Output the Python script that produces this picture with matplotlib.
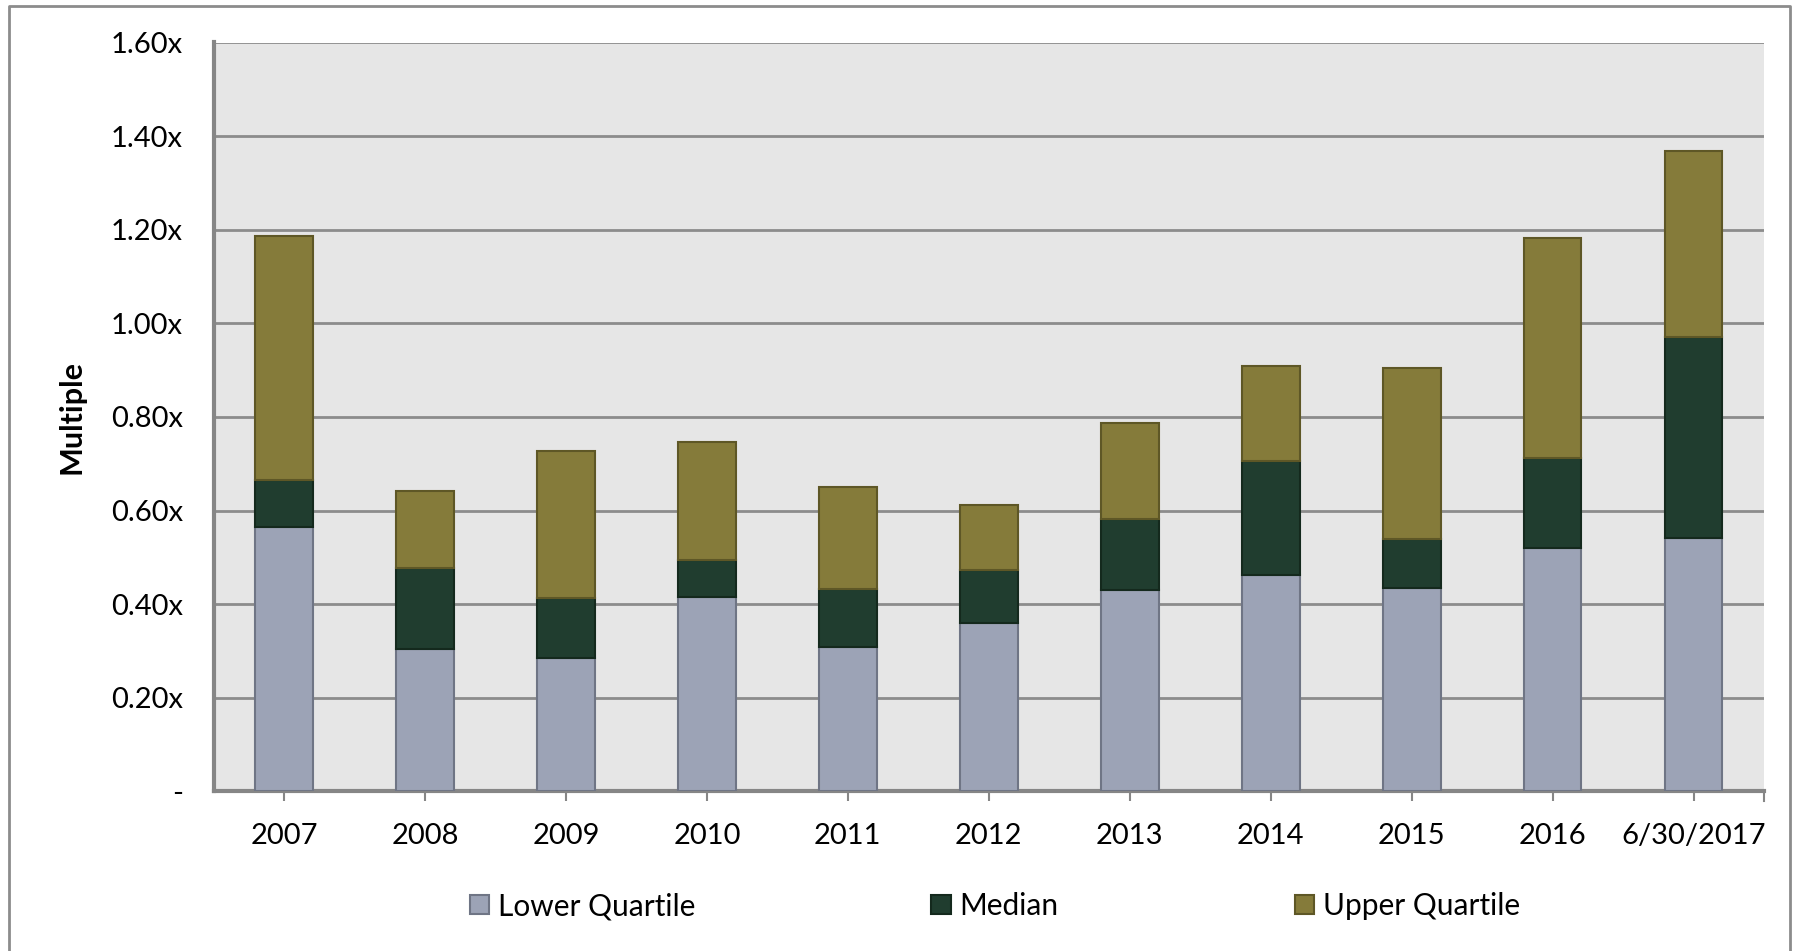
import numpy as np
import matplotlib.pyplot as plt
from matplotlib.lines import Line2D

# values (cumulative levels)
years = ['2007', '2008', '2009', '2010', '2011', '2012', '2013', '2014', '2015', '2016', '6/30/2017']
lower_q = [0.565, 0.305, 0.285, 0.415, 0.308, 0.360, 0.430, 0.463, 0.435, 0.520, 0.541]
median = [0.666, 0.477, 0.414, 0.494, 0.433, 0.473, 0.581, 0.705, 0.540, 0.712, 0.970]
upper_q = [1.186, 0.641, 0.727, 0.746, 0.651, 0.611, 0.787, 0.909, 0.904, 1.183, 1.368]

plt.rcParams['font.family'] = ['Lato', 'DejaVu Sans']

lo = np.array(lower_q)
md = np.array(median)
up = np.array(upper_q)
x = np.arange(len(years))

fig = plt.figure(figsize=(18.01, 9.51), dpi=100)
ax = fig.add_axes([213.6/1801, 1 - 791.4/951, (1764 - 213.6)/1801, (791.4 - 42.5)/951])
ax.set_facecolor('#e6e6e6')

w = 0.41
ax.bar(x, lo, w, color='#9ca3b6', edgecolor='#6f7585', linewidth=1.5, label='Lower Quartile', zorder=3)
ax.bar(x, md - lo, w, bottom=lo, color='#203d2f', edgecolor='#14291d', linewidth=1.5, label='Median', zorder=3)
ax.bar(x, up - md, w, bottom=md, color='#857b3a', edgecolor='#5e5726', linewidth=1.5, label='Upper Quartile', zorder=3)

ax.set_xlim(-0.5, len(years) - 0.5)
ax.set_ylim(0, 1.6)
yt = np.arange(0, 1.61, 0.2)
ax.set_yticks(yt)
ax.set_yticklabels(['-' if v == 0 else '{:.2f}x'.format(v) for v in yt], fontsize=21)
ax.set_xticks(x)
ax.set_xticklabels(years, fontsize=21)
ax.grid(axis='y', color='#8c8c8c', linewidth=2, zorder=0)
ax.set_axisbelow(True)

for s in ['top', 'right']:
    ax.spines[s].set_visible(False)
for s in ['left', 'bottom']:
    ax.spines[s].set_color('#868686')
    ax.spines[s].set_linewidth(3)
ax.tick_params(axis='x', direction='inout', length=14, width=1.5, color='#868686', pad=16)
ax.tick_params(axis='y', length=0, pad=22)
ax.plot([len(years) - 0.5] * 2, [-0.02, 0.0], color='#868686', lw=1.5, clip_on=False)

ax.set_ylabel('Multiple', fontsize=22, fontweight='bold', labelpad=18)

fig.legend(loc='center', bbox_to_anchor=(995/1801, 1 - 906/951), ncol=3, frameon=False,
           fontsize=21.5, handlelength=0.65, handleheight=0.65, handletextpad=0.3, columnspacing=7.9)

# outer chart border
fig.add_artist(Line2D([9/1801, 9/1801, 1790/1801, 1790/1801], [0, 1 - 6/951, 1 - 6/951, 0],
                      transform=fig.transFigure, color='#8c8c8c', lw=2))

fig.savefig('out.png', dpi=100)
